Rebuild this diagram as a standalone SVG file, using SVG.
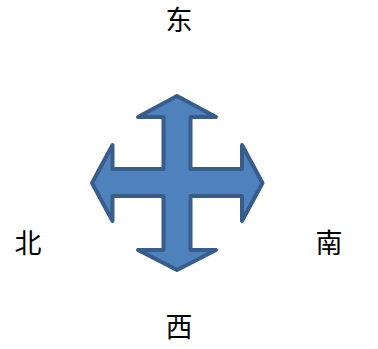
<svg xmlns="http://www.w3.org/2000/svg" width="378" height="349" viewBox="0 0 378 349">
<style>
.lbl{font-family:"Noto Sans CJK SC","Noto Sans CJK JP",sans-serif;font-size:27px;fill:#000;text-anchor:middle}
.arrow{fill:#4F81BD;stroke:#385D8A;stroke-width:4;stroke-linejoin:round}
</style>
<rect width="378" height="349" fill="#fff"/>
<g id="cross">
<path class="arrow" d="M177,96 L216,117 L190.5,117 L190.5,169 L242,169 L242,145 L262.5,183 L242,221 L242,196 L190.5,196 L190.5,250 L216,250 L177,270 L138,250 L163.5,250 L163.5,196 L112.5,196 L112.5,221 L92,183 L112.5,145 L112.5,169 L163.5,169 L163.5,117 L138,117 Z"/>
</g>
<g id="east"><text class="lbl" x="179" y="30">东</text></g>
<g id="north"><text class="lbl" x="28" y="253">北</text></g>
<g id="south"><text class="lbl" x="329" y="253">南</text></g>
<g id="west"><text class="lbl" x="179" y="337">西</text></g>
</svg>
